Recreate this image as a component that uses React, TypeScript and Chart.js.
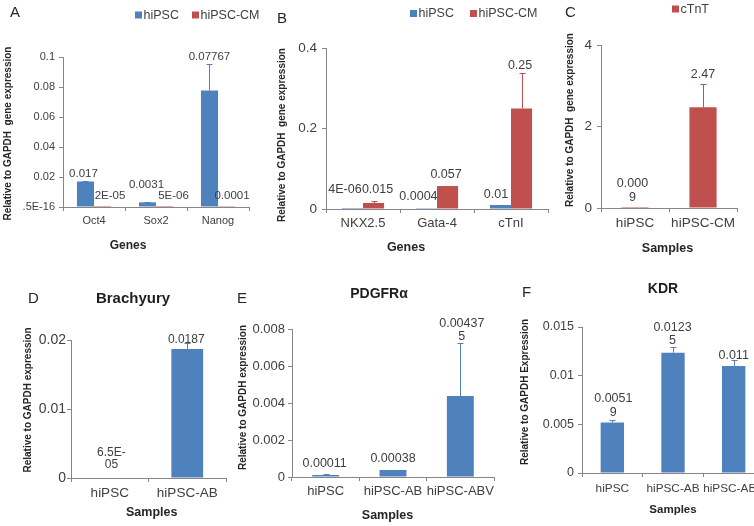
import React, { useEffect, useRef } from 'react';
import { Chart, registerables } from 'chart.js';

Chart.register(...registerables);

const FONT = "'Liberation Sans', Arial, Helvetica, sans-serif";
const BLUE = '#4F81BD';
const RED = '#C0504D';
const AXIS = '#868686';
const TEXT = '#404040';
const DARK = '#1e1e1e';

// ---------- Panel A ----------
const genesA = ['Oct4', 'Sox2', 'Nanog'];
const hipscA = [0.017, 0.0031, 0.07767];
const hipscErrA = [0.0006, 0.0002, 0.0176];
const hipscLabelsA = ['0.017', '0.0031', '0.07767'];
const hipscCmA = [0.00002, 0.000005, 0.0001];
const hipscCmErrA = [0, 0, 0];
const hipscCmLabelsA = ['2E-05', '5E-06', '0.0001'];
const yTicksA = [0, 0.02, 0.04, 0.06, 0.08, 0.1];
const yTickLabelsA = ['.5E-16', '0.02', '0.04', '0.06', '0.08', '0.1'];

// ---------- Panel B ----------
const genesB = ['NKX2.5', 'Gata-4', 'cTnI'];
const hipscB = [0.000004, 0.0004, 0.01];
const hipscErrB = [0, 0, 0.001];
const hipscLabelsB = ['4E-06', '0.0004', '0.01'];
const hipscCmB = [0.015, 0.057, 0.25];
const hipscCmErrB = [0.005, 0.0005, 0.087];
const hipscCmLabelsB = ['0.015', '0.057', '0.25'];
const yTicksB = [0, 0.2, 0.4];
const yTickLabelsB = ['0', '0.2', '0.4'];

// ---------- Panel C ----------
const samplesC = ['hiPSC', 'hiPSC-CM'];
const cTnT = [0.0009, 2.47];
const cTnTErr = [0, 0.57];
const cTnTLabels = ['0.000\n9', '2.47'];
const yTicksC = [0, 2, 4];
const yTickLabelsC = ['0', '2', '4'];

// ---------- Panel D ----------
const samplesD = ['hiPSC', 'hiPSC-AB'];
const brachyury = [0.000065, 0.0187];
const brachyuryErr = [0, 0.0009];
const brachyuryLabels = ['6.5E-\n05', '0.0187'];
const yTicksD = [0, 0.01, 0.02];
const yTickLabelsD = ['0', '0.01', '0.02'];

// ---------- Panel E ----------
const samplesE = ['hiPSC', 'hiPSC-AB', 'hiPSC-ABV'];
const pdgfra = [0.00011, 0.00038, 0.004375];
const pdgfraErr = [0.00003, 0, 0.00286];
const pdgfraLabels = ['0.00011', '0.00038', '0.00437\n5'];
const yTicksE = [0, 0.002, 0.004, 0.006, 0.008];
const yTickLabelsE = ['0', '0.002', '0.004', '0.006', '0.008'];

// ---------- Panel F ----------
const samplesF = ['hiPSC', 'hiPSC-AB', 'hiPSC-ABV'];
const kdr = [0.00519, 0.01235, 0.011];
const kdrErr = [0.0003, 0.0006, 0.0006];
const kdrLabels = ['0.0051\n9', '0.0123\n5', '0.011'];
const yTicksF = [0, 0.005, 0.01, 0.015];
const yTickLabelsF = ['0', '0.005', '0.01', '0.015'];

type Txt = { t: string; x: number; y: number; font: string; align?: CanvasTextAlign; rot?: boolean; color?: string };
type Series = { label: string; data: number[]; color: string; errors: number[]; labels: string[]; nudges: number[][] };
type PanelCfg = {
  box: number[];
  area: number[];
  categories: string[];
  series: Series[];
  yMax: number;
  yTicks: number[];
  yTickLabels: string[];
  yTickFont: number;
  yTickPad: number;
  xTickFont: number;
  xTickPad: number;
  labelFont: number;
  labelLine: number;
  barPct: number;
  catPct: number;
  legend: number[][];
  legendFont: number;
  texts: Txt[];
};

const bold = (s: number) => `bold ${s}px ${FONT}`;
const reg = (s: number) => `${s}px ${FONT}`;
const Y3 = 'Relative to GAPDH  gene expression';

const panels: PanelCfg[] = [
  {
    box: [0, 0, 268, 262],
    area: [63, 57, 249, 207],
    categories: genesA,
    series: [
      { label: 'hiPSC', data: hipscA, color: BLUE, errors: hipscErrA, labels: hipscLabelsA, nudges: [[-2, 0], [-1, -9], [0, 0]] },
      { label: 'hiPSC-CM', data: hipscCmA, color: RED, errors: hipscCmErrA, labels: hipscCmLabelsA, nudges: [[7.5, -3], [9, -3], [5.5, -3]] },
    ],
    yMax: 0.1, yTicks: yTicksA, yTickLabels: yTickLabelsA,
    yTickFont: 11, yTickPad: 4, xTickFont: 11, xTickPad: 3.4,
    labelFont: 11.5, labelLine: 13.5, barPct: 1, catPct: 0.55,
    legend: [[135, 15], [192, 15]], legendFont: 12.5,
    texts: [
      { t: 'A', x: 10, y: 17, font: reg(15), align: 'left' },
      { t: 'Genes', x: 128, y: 249, font: bold(12) },
      { t: Y3, x: 8, y: 133.5, font: bold(10), rot: true },
    ],
  },
  {
    box: [270, 0, 290, 262],
    area: [326, 48, 548, 209],
    categories: genesB,
    series: [
      { label: 'hiPSC', data: hipscB, color: BLUE, errors: hipscErrB, labels: hipscLabelsB, nudges: [[-7.5, -11], [-8, -4], [-4.5, -2]] },
      { label: 'hiPSC-CM', data: hipscCmB, color: RED, errors: hipscCmErrB, labels: hipscCmLabelsB, nudges: [[4, -4], [-1.5, -3], [-1.5, 0]] },
    ],
    yMax: 0.4, yTicks: yTicksB, yTickLabels: yTickLabelsB,
    yTickFont: 13.5, yTickPad: 5, xTickFont: 13, xTickPad: 2.5,
    labelFont: 12.5, labelLine: 14, barPct: 1, catPct: 0.57,
    legend: [[410, 13.5], [470, 13.5]], legendFont: 12.5,
    texts: [
      { t: 'B', x: 277, y: 23, font: reg(15), align: 'left' },
      { t: 'Genes', x: 406, y: 251, font: bold(12.5) },
      { t: Y3, x: 282, y: 135, font: bold(10), rot: true },
    ],
  },
  {
    box: [560, 0, 194, 262],
    area: [601, 45, 737, 208],
    categories: samplesC,
    series: [
      { label: 'cTnT', data: cTnT, color: RED, errors: cTnTErr, labels: cTnTLabels, nudges: [[-2.5, -2], [0, -2]] },
    ],
    yMax: 4, yTicks: yTicksC, yTickLabels: yTickLabelsC,
    yTickFont: 13.5, yTickPad: 5, xTickFont: 13.5, xTickPad: 2.9,
    labelFont: 12.5, labelLine: 14, barPct: 0.4, catPct: 1,
    legend: [[672, 9]], legendFont: 12.5,
    texts: [
      { t: 'C', x: 565, y: 17, font: reg(15), align: 'left' },
      { t: 'Samples', x: 667.5, y: 252, font: bold(12.5) },
      { t: Y3, x: 570, y: 120, font: bold(10), rot: true },
    ],
  },
  {
    box: [0, 262, 236, 264],
    area: [71, 340, 226, 478],
    categories: samplesD,
    series: [
      { label: 'Brachyury', data: brachyury, color: BLUE, errors: brachyuryErr, labels: brachyuryLabels, nudges: [[1.7, -4.5], [-1, 4]] },
    ],
    yMax: 0.02, yTicks: yTicksD, yTickLabels: yTickLabelsD,
    yTickFont: 14, yTickPad: 1, xTickFont: 13.5, xTickPad: 3.2,
    labelFont: 12, labelLine: 12, barPct: 0.41, catPct: 1,
    legend: [], legendFont: 12.5,
    texts: [
      { t: 'D', x: 28, y: 303, font: reg(15), align: 'left' },
      { t: 'Brachyury', x: 133, y: 303, font: bold(15), color: DARK },
      { t: 'Samples', x: 151.7, y: 516, font: bold(12.5) },
      { t: 'Relative to GAPDH expression', x: 28, y: 400, font: bold(10), rot: true },
    ],
  },
  {
    box: [236, 262, 280, 264],
    area: [292, 329, 494, 477],
    categories: samplesE,
    series: [
      { label: 'PDGFRα', data: pdgfra, color: BLUE, errors: pdgfraErr, labels: pdgfraLabels, nudges: [[-1, -2.6], [0, -3], [1.5, 1.7]] },
    ],
    yMax: 0.008, yTicks: yTicksE, yTickLabels: yTickLabelsE,
    yTickFont: 13, yTickPad: 3, xTickFont: 13, xTickPad: 2.9,
    labelFont: 12.5, labelLine: 13.3, barPct: 0.4, catPct: 1,
    legend: [], legendFont: 12.5,
    texts: [
      { t: 'E', x: 237, y: 303, font: reg(15), align: 'left' },
      { t: 'PDGFRα', x: 379, y: 298, font: bold(14), color: DARK },
      { t: 'Samples', x: 387.5, y: 519, font: bold(12.5) },
      { t: 'Relative to GAPDH expression', x: 243, y: 397.5, font: bold(10), rot: true },
    ],
  },
  {
    box: [516, 262, 264, 264],
    area: [582, 327, 764, 473],
    categories: samplesF,
    series: [
      { label: 'KDR', data: kdr, color: BLUE, errors: kdrErr, labels: kdrLabels, nudges: [[1, 0], [-0.5, 1.6], [0, 3.3]] },
    ],
    yMax: 0.015, yTicks: yTicksF, yTickLabels: yTickLabelsF,
    yTickFont: 12.5, yTickPad: 4, xTickFont: 11.8, xTickPad: 4.2,
    labelFont: 12.5, labelLine: 13.3, barPct: 0.385, catPct: 1,
    legend: [], legendFont: 12.5,
    texts: [
      { t: 'F', x: 522, y: 297, font: reg(15), align: 'left' },
      { t: 'KDR', x: 663, y: 293, font: bold(14), color: DARK },
      { t: 'Samples', x: 673, y: 513, font: bold(11.5) },
      { t: 'Relative to GAPDH Expression', x: 525, y: 392, font: bold(10), rot: true },
    ],
  },
];

const deco = {
  id: 'deco',
  afterDraw(chart: any, _args: any, opts: any) {
    const cfg: PanelCfg = opts.cfg;
    if (!cfg) return;
    const ctx: CanvasRenderingContext2D = chart.ctx;
    const cl = cfg.box[0];
    const ct = cfg.box[1];
    const ys = chart.scales.y;
    ctx.save();
    cfg.series.forEach((s, di) => {
      const meta = chart.getDatasetMeta(di);
      meta.data.forEach((bar: any, i: number) => {
        const e = s.errors[i] || 0;
        let top = bar.y;
        if (e > 0) {
          const yTop = Math.round(ys.getPixelForValue(s.data[i] + e)) + 0.5;
          const x = Math.round(bar.x) + 0.5;
          ctx.strokeStyle = s.color;
          ctx.lineWidth = 1;
          ctx.beginPath();
          ctx.moveTo(x, bar.y);
          ctx.lineTo(x, yTop);
          ctx.moveTo(x - 3, yTop);
          ctx.lineTo(x + 3, yTop);
          ctx.stroke();
          top = Math.min(top, yTop);
        }
        const nd = s.nudges[i] || [0, 0];
        const lines = s.labels[i].split('\n');
        ctx.font = reg(cfg.labelFont);
        ctx.fillStyle = TEXT;
        ctx.textAlign = 'center';
        ctx.textBaseline = 'alphabetic';
        const base = top - 5 + nd[1];
        lines.forEach((ln, k) => {
          ctx.fillText(ln, bar.x + nd[0], base - (lines.length - 1 - k) * cfg.labelLine);
        });
      });
    });
    cfg.legend.forEach((p, i) => {
      const s = cfg.series[i];
      if (!s) return;
      const x = p[0] - cl;
      const y = p[1] - ct;
      ctx.fillStyle = s.color;
      ctx.fillRect(x, y - 3.5, 7, 7);
      ctx.font = reg(cfg.legendFont);
      ctx.fillStyle = TEXT;
      ctx.textAlign = 'left';
      ctx.textBaseline = 'middle';
      ctx.fillText(s.label, x + 8.5, y + 0.5);
    });
    cfg.texts.forEach((t) => {
      ctx.font = t.font;
      ctx.fillStyle = t.color || '#262626';
      if (t.rot) {
        ctx.save();
        ctx.translate(t.x - cl, t.y - ct);
        ctx.rotate(-Math.PI / 2);
        ctx.textAlign = 'center';
        ctx.textBaseline = 'middle';
        ctx.fillText(t.t, 0, 0);
        ctx.restore();
      } else {
        ctx.textAlign = t.align || 'center';
        ctx.textBaseline = 'alphabetic';
        ctx.fillText(t.t, t.x - cl, t.y - ct);
      }
    });
    ctx.restore();
  },
};

function Panel({ cfg }: { cfg: PanelCfg }) {
  const ref = useRef<HTMLCanvasElement | null>(null);
  useEffect(() => {
    if (!ref.current) return;
    const [cl, ct, cw, ch] = cfg.box;
    const [al, at, ar, ab] = cfg.area;
    const XH = 30;
    const chart = new Chart(ref.current, {
      type: 'bar',
      data: {
        labels: cfg.categories,
        datasets: cfg.series.map((s) => ({
          label: s.label,
          data: s.data,
          backgroundColor: s.color,
          borderWidth: 0,
          barPercentage: cfg.barPct,
          categoryPercentage: cfg.catPct,
        })),
      },
      options: {
        responsive: false,
        animation: false,
        devicePixelRatio: 1,
        layout: { padding: { left: 0, top: at - ct, right: cl + cw - ar, bottom: ct + ch - ab - XH } },
        plugins: {
          legend: { display: false },
          tooltip: { enabled: false },
          title: { display: false },
          deco: { cfg },
        } as any,
        scales: {
          x: {
            grid: { drawOnChartArea: false, tickLength: 4, color: AXIS, offset: true },
            border: { color: AXIS },
            ticks: {
              color: TEXT,
              font: { family: FONT, size: cfg.xTickFont },
              padding: cfg.xTickPad,
              maxRotation: 0,
              minRotation: 0,
              autoSkip: false,
            },
            afterFit: (s: any) => { s.height = XH; },
          },
          y: {
            min: 0,
            max: cfg.yMax,
            grid: { drawOnChartArea: false, tickLength: 4, color: AXIS },
            border: { color: AXIS },
            ticks: {
              color: TEXT,
              font: { family: FONT, size: cfg.yTickFont },
              padding: cfg.yTickPad,
              callback: (_v: any, i: number) => cfg.yTickLabels[i],
            },
            afterBuildTicks: (s: any) => { s.ticks = cfg.yTicks.map((v) => ({ value: v })); },
            afterFit: (s: any) => { s.width = al - cl; },
          },
        },
      } as any,
      plugins: [deco as any],
    });
    return () => chart.destroy();
  }, [cfg]);
  const [cl, ct, cw, ch] = cfg.box;
  return (
    <canvas
      ref={ref}
      width={cw}
      height={ch}
      style={{ position: 'absolute', left: cl, top: ct, width: cw, height: ch }}
    />
  );
}

export default function App() {
  return (
    <div
      style={{
        position: 'absolute',
        left: 0,
        top: 0,
        width: 754,
        height: 526,
        overflow: 'hidden',
        background: '#ffffff',
      }}
    >
      {panels.map((p, i) => (
        <Panel key={i} cfg={p} />
      ))}
    </div>
  );
}
